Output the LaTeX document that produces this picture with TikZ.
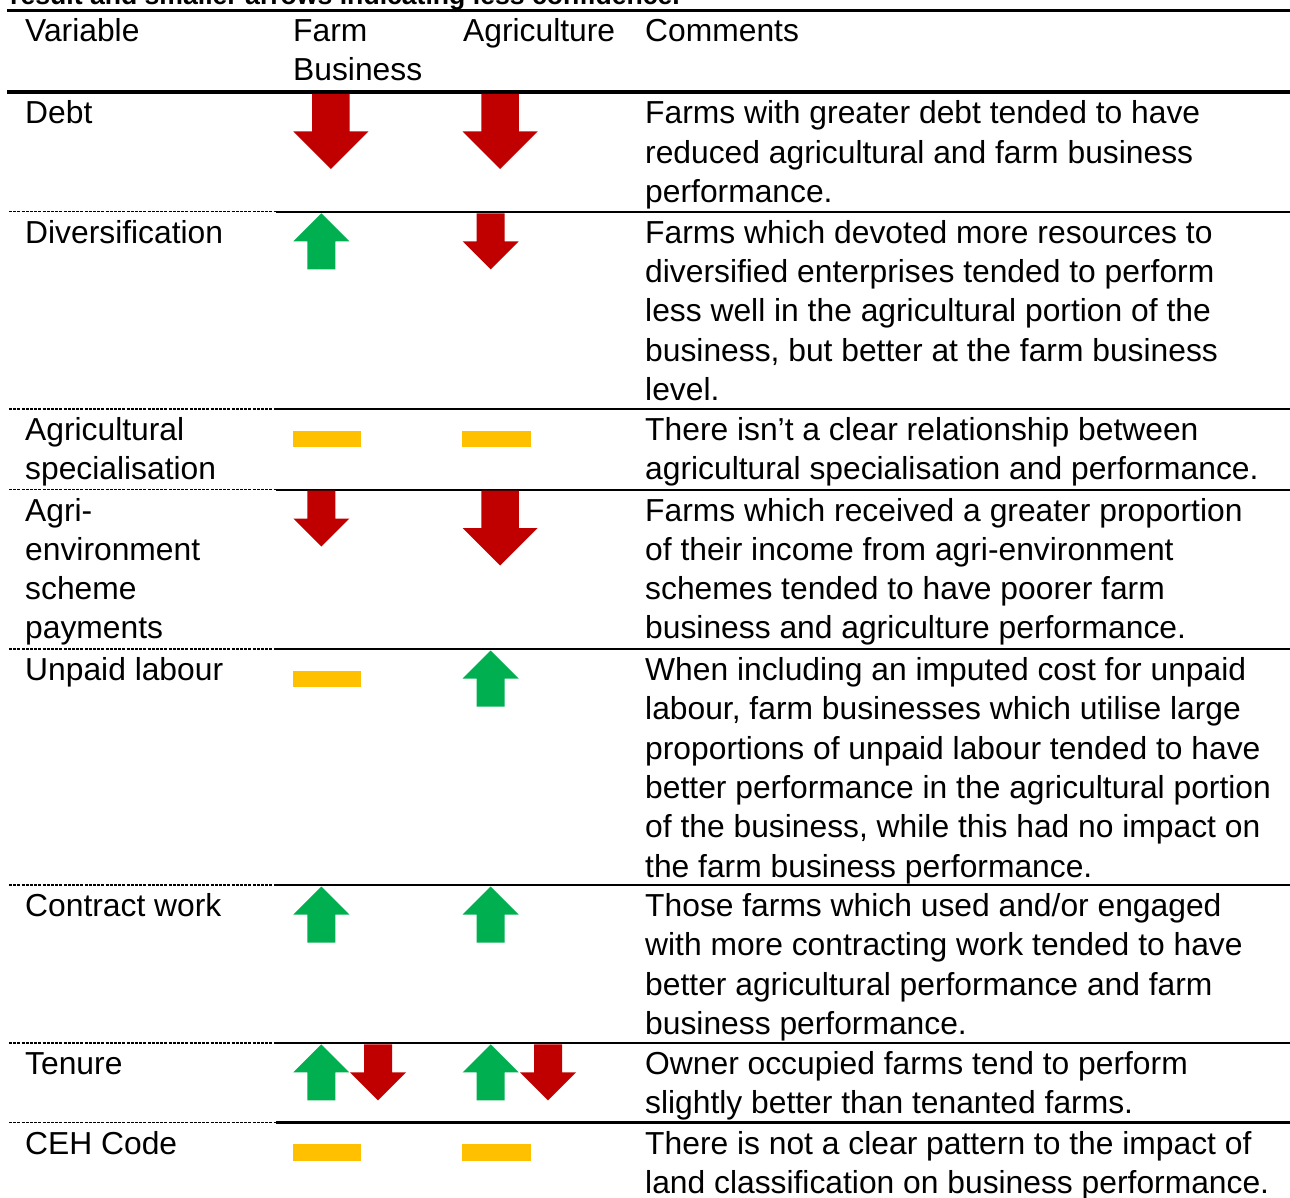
\documentclass[tikz,border=0pt]{standalone}
\usepackage{fontspec}
\setmainfont{Liberation Sans}
\definecolor{arrred}{RGB}{192,0,0}
\definecolor{arrgreen}{RGB}{0,176,80}
\definecolor{neutralyellow}{RGB}{255,192,0}
\newcommand\tablefont{\fontsize{31.8}{39.3}\selectfont}
\newcommand\ArrDn[3]{\fill[arrred,shift={(#1,#2)},scale=#3] (0.25,0) -- (0.75,0) -- (0.75,0.5) -- (1,0.5) -- (0.5,1) -- (0,0.5) -- (0.25,0.5) -- cycle;}
\newcommand\ArrUp[3]{\fill[arrgreen,shift={(#1,#2)},scale=#3] (0.5,0) -- (1,0.5) -- (0.75,0.5) -- (0.75,1) -- (0.25,1) -- (0.25,0.5) -- (0,0.5) -- cycle;}
\newcommand\NeutralDash[2]{\fill[neutralyellow] (#1,#2) rectangle ++(68.3,16.3);}
\newcommand\RowSep[2]{\draw[line width=1.3pt,dash pattern=on 3pt off 1.2pt] (9,#1) -- (276,#1);
  \draw[line width=#2] (276,#1) -- (1290,#1);}
\newcommand\CellBox[2]{\parbox[t]{#1}{\raggedright #2}}
\tikzset{
  cell/.style={anchor=base west, inner sep=0pt, font=\tablefont},
}
\begin{document}
\begin{tikzpicture}[x=1pt,y=-1pt]
\useasboundingbox (0,0) rectangle (1290,1198);
\clip (0,0) rectangle (1290,1198);
\fill[white] (0,0) rectangle (1290,1198);
% title (cut off)
\node[anchor=base west, inner sep=0pt, font=\fontsize{26.6}{30}\selectfont\bfseries] (title) at (10,4.5) {result and smaller arrows indicating less confidence.};
% top rule and header
\draw[line width=3pt] (7,11) -- (1290,11);
\node[cell] (hv) at (25,41.5) {Variable};
\node[cell] (hf) at (293,41.5) {\CellBox{160pt}{Farm\\Business}};
\node[cell] (ha) at (463,41.5) {Agriculture};
\node[cell] (hc) at (645,41.5) {Comments};
\draw[line width=3.5pt] (7,92) -- (1290,92);
% row separators
\RowSep{211.7}{2pt}
\RowSep{409}{2pt}
\RowSep{489.5}{2pt}
\RowSep{649}{2pt}
\RowSep{885}{2pt}
\RowSep{1043}{2pt}
\RowSep{1122.5}{3pt}
% Debt
\node[cell] (v1) at (25,124) {Debt};
\node[cell] (c1) at (645,124) {\CellBox{645pt}{Farms with greater debt tended to have\\reduced agricultural and farm business\\performance.}};
\ArrDn{293.3}{94}{75}
\ArrDn{462.7}{94}{75}
% Diversification
\node[cell] (v2) at (25,243.2) {Diversification};
\node[cell] (c2) at (645,243.2) {\CellBox{645pt}{Farms which devoted more resources to\\diversified enterprises tended to perform\\less well in the agricultural portion of the\\business, but better at the farm business\\level.}};
\ArrUp{293.3}{213.3}{56}
\ArrDn{462.7}{213.3}{56}
% Agricultural specialisation
\node[cell] (v3) at (25,440.5) {\CellBox{250pt}{Agricultural\\specialisation}};
\node[cell] (c3) at (645,440.5) {\CellBox{645pt}{There isn’t a clear relationship between\\agricultural specialisation and performance.}};
\NeutralDash{292.7}{431}
\NeutralDash{462.3}{431}
% Agri-environment
\node[cell] (v4) at (25,521) {\CellBox{250pt}{Agri-\\environment\\scheme\\payments}};
\node[cell] (c4) at (645,521) {\CellBox{645pt}{Farms which received a greater proportion\\of their income from agri-environment\\schemes tended to have poorer farm\\business and agriculture performance.}};
\ArrDn{293.3}{490.5}{56}
\ArrDn{462.7}{490.5}{75}
% Unpaid labour
\node[cell] (v5) at (25,680.5) {Unpaid labour};
\node[cell] (c5) at (645,680.5) {\CellBox{645pt}{When including an imputed cost for unpaid\\labour, farm businesses which utilise large\\proportions of unpaid labour tended to have\\better performance in the agricultural portion\\of the business, while this had no impact on\\the farm business performance.}};
\NeutralDash{292.7}{671}
\ArrUp{462.7}{650.5}{56}
% Contract work
\node[cell] (v6) at (25,916.5) {Contract work};
\node[cell] (c6) at (645,916.5) {\CellBox{645pt}{Those farms which used and/or engaged\\with more contracting work tended to have\\better agricultural performance and farm\\business performance.}};
\ArrUp{293.3}{886.5}{56}
\ArrUp{462.7}{886.5}{56}
% Tenure
\node[cell] (v7) at (25,1074.5) {Tenure};
\node[cell] (c7) at (645,1074.5) {\CellBox{645pt}{Owner occupied farms tend to perform\\slightly better than tenanted farms.}};
\ArrUp{293.3}{1044.3}{56}
\ArrDn{350}{1044.3}{56}
\ArrUp{462.7}{1044.3}{56}
\ArrDn{520}{1044.3}{56}
% CEH Code
\node[cell] (v8) at (25,1154) {CEH Code};
\node[cell] (c8) at (645,1154) {\CellBox{645pt}{There is not a clear pattern to the impact of\\land classification on business performance.}};
\NeutralDash{292.7}{1144.3}
\NeutralDash{462.3}{1144.3}
\end{tikzpicture}
\end{document}
